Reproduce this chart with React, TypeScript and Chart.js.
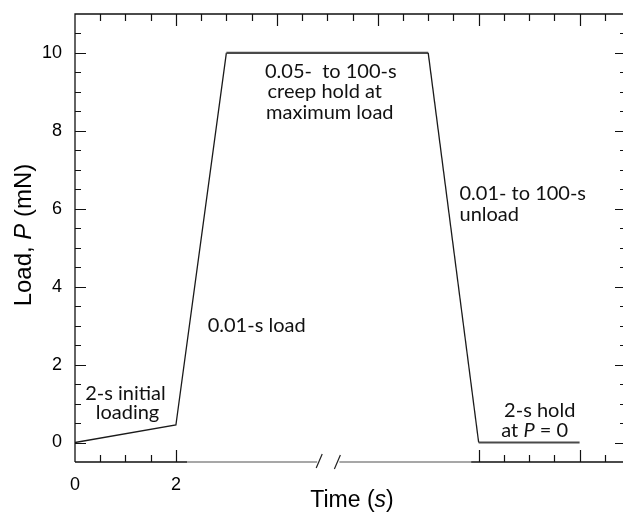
import React, { useEffect, useRef } from 'react';
import { Chart, registerables } from 'chart.js';

Chart.register(...registerables);

// ---- data ----
const timeValues = [0, 2, 3, 7, 8, 10];
const loadValues = [0, 0.45, 10, 10, 0, 0];
const yTickLabels = [0, 2, 4, 6, 8, 10];
const xTickLabels = [0, 2];
const bottomTickGroups = [[0.5, 1, 1.5, 2], [8, 8.5, 9, 9.5, 10, 10.5]];

const annotationTexts = [
  '2-s initial', 'loading',
  '0.01-s load',
  '0.05-  to 100-s', 'creep hold at', 'maximum load',
  '0.01- to 100-s', 'unload',
  '2-s hold',
];
const annotationX = [1.0, 1.04, 3.6, 5.07, 4.95, 5.05, 7.62, 7.62, 9.21];
const annotationY = [1.26, 0.76, 2.99, 9.51, 9.0, 8.46, 6.4, 5.86, 0.83];
const annotationAlign: CanvasTextAlign[] = ['center', 'center', 'center', 'center', 'center', 'center', 'left', 'left', 'center'];

const AXIS_FONT = '"Liberation Sans", Arial, sans-serif';
const NOTE_FONT = 'Lato, "Open Sans", sans-serif';
const NOTE_SIZE = 20;

function drawMixed(ctx: CanvasRenderingContext2D, parts: { t: string; it: boolean }[], size: number, family: string, cx: number, cy: number) {
  let total = 0;
  const widths = parts.map((p) => {
    ctx.font = `${p.it ? 'italic ' : ''}${size}px ${family}`;
    const w = ctx.measureText(p.t).width;
    total += w;
    return w;
  });
  let x = cx - total / 2;
  ctx.textAlign = 'left';
  ctx.textBaseline = 'middle';
  parts.forEach((p, i) => {
    ctx.font = `${p.it ? 'italic ' : ''}${size}px ${family}`;
    ctx.fillText(p.t, x, cy);
    x += widths[i];
  });
}

const framePlugin = {
  id: 'frame',
  afterDraw(chart: any) {
    const { ctx, chartArea, scales } = chart;
    const { left, right, top, bottom } = chartArea;
    const xs = scales.x;
    const ys = scales.y;
    ctx.save();
    ctx.lineCap = 'butt';

    // frame lines
    ctx.strokeStyle = '#111';
    ctx.lineWidth = 1.3;
    ctx.beginPath();
    ctx.moveTo(left, bottom);
    ctx.lineTo(left, top);
    ctx.lineTo(right, top);
    ctx.lineTo(right, bottom);
    ctx.stroke();

    // bottom axis: black parts
    const b1 = xs.getPixelForValue(2.22);
    const brA = xs.getPixelForValue(4.82);
    const brB = xs.getPixelForValue(5.2);
    const b2 = xs.getPixelForValue(7.85);
    ctx.beginPath();
    ctx.moveTo(left, bottom);
    ctx.lineTo(b1, bottom);
    ctx.moveTo(b2, bottom);
    ctx.lineTo(right, bottom);
    ctx.stroke();
    // gray broken part
    ctx.strokeStyle = '#8a8a8a';
    ctx.lineWidth = 1.3;
    ctx.beginPath();
    ctx.moveTo(b1, bottom);
    ctx.lineTo(brA - 1, bottom);
    ctx.moveTo(brB + 2, bottom);
    ctx.lineTo(b2, bottom);
    ctx.stroke();
    // break marks
    ctx.strokeStyle = '#222';
    ctx.lineWidth = 1.2;
    ctx.beginPath();
    ctx.moveTo(brA - 2, bottom + 6);
    ctx.lineTo(brA + 4, bottom - 8);
    ctx.moveTo(brB - 3, bottom + 7);
    ctx.lineTo(brB + 3, bottom - 7);
    ctx.stroke();

    // ticks
    ctx.strokeStyle = '#111';
    ctx.lineWidth = 1.2;
    ctx.beginPath();
    for (let v = 0; v <= 10.51; v += 0.5) {
      const py = Math.round(ys.getPixelForValue(v)) + 0.5;
      const major = Math.abs(v % 2) < 1e-6;
      const len = major ? 11 : 6;
      ctx.moveTo(left, py);
      ctx.lineTo(left + len, py);
      ctx.moveTo(right, py);
      ctx.lineTo(right - len, py);
    }
    for (let v = 0.5; v <= 10.51; v += 0.5) {
      const px = Math.round(xs.getPixelForValue(v)) + 0.5;
      const major = Math.abs(v % 2) < 1e-6;
      const len = major ? 12 : 7;
      ctx.moveTo(px, top);
      ctx.lineTo(px, top + len);
    }
    bottomTickGroups.forEach((g) =>
      g.forEach((v) => {
        const px = Math.round(xs.getPixelForValue(v)) + 0.5;
        const major = Math.abs(v % 2) < 1e-6;
        const len = major ? 12 : 7;
        ctx.moveTo(px, bottom);
        ctx.lineTo(px, bottom - len);
      })
    );
    ctx.stroke();

    // axis titles
    ctx.fillStyle = '#000';
    drawMixed(ctx, [{ t: 'Time (', it: false }, { t: 's', it: true }, { t: ')', it: false }], 23, AXIS_FONT, 352, 501);
    ctx.save();
    ctx.translate(24, 235);
    ctx.rotate(-Math.PI / 2);
    drawMixed(ctx, [{ t: 'Load, ', it: false }, { t: 'P', it: true }, { t: ' (mN)', it: false }], 24, AXIS_FONT, 0, 0);
    ctx.restore();

    // annotations
    ctx.fillStyle = '#111';
    ctx.textBaseline = 'middle';
    ctx.font = `${NOTE_SIZE}px ${NOTE_FONT}`;
    annotationTexts.forEach((t, i) => {
      ctx.textAlign = annotationAlign[i];
      ctx.fillText(t, xs.getPixelForValue(annotationX[i]), ys.getPixelForValue(annotationY[i]));
    });
    drawMixed(
      ctx,
      [{ t: 'at ', it: false }, { t: 'P', it: true }, { t: ' = 0', it: false }],
      NOTE_SIZE,
      NOTE_FONT,
      xs.getPixelForValue(9.11),
      ys.getPixelForValue(0.32)
    );
    ctx.restore();
  },
};

export default function App() {
  const canvasRef = useRef<HTMLCanvasElement | null>(null);

  useEffect(() => {
    if (!canvasRef.current) return;
    const points = timeValues.map((t, i) => ({ x: t, y: loadValues[i] }));
    const chart = new Chart(canvasRef.current, {
      type: 'scatter',
      data: {
        datasets: [
          {
            data: points,
            showLine: true,
            pointRadius: 0,
            borderColor: '#222',
            borderWidth: 1.3,
            segment: {
              borderWidth: (c: any) => (c.p0.parsed.y === c.p1.parsed.y ? 2.2 : 1.3),
              borderColor: (c: any) => (c.p0.parsed.y === c.p1.parsed.y ? '#4a4a4a' : '#1a1a1a'),
            },
          },
        ],
      },
      options: {
        animation: false,
        responsive: true,
        maintainAspectRatio: false,
        devicePixelRatio: 1,
        layout: { padding: { top: 14, right: 14, left: 0, bottom: 0 } },
        plugins: { legend: { display: false }, tooltip: { enabled: false } },
        scales: {
          x: {
            type: 'linear',
            min: 0,
            max: 10.92,
            grid: { display: false },
            border: { display: false },
            afterBuildTicks: (s: any) => {
              s.ticks = xTickLabels.map((v) => ({ value: v }));
            },
            afterFit: (s: any) => {
              s.height = 51;
              s.paddingLeft = 0;
              s.paddingRight = 0;
            },
            ticks: {
              color: '#000',
              padding: 4,
              maxRotation: 0,
              font: { family: AXIS_FONT, size: 18 },
              callback: (v: any) => String(v),
            },
          },
          y: {
            type: 'linear',
            min: -0.5,
            max: 11,
            grid: { display: false },
            border: { display: false },
            afterBuildTicks: (s: any) => {
              s.ticks = yTickLabels.map((v) => ({ value: v }));
            },
            afterFit: (s: any) => {
              s.width = 75;
              s.paddingTop = 0;
              s.paddingBottom = 0;
            },
            ticks: {
              color: '#000',
              padding: 5,
              font: { family: AXIS_FONT, size: 18 },
              callback: (v: any) => String(v),
            },
          },
        },
      },
      plugins: [framePlugin],
    });
    return () => chart.destroy();
  }, []);

  return (
    <div style={{ position: 'fixed', left: 0, top: 0, width: 623, height: 513, overflow: 'hidden', background: '#fff' }}>
      <div style={{ position: 'absolute', left: 0, top: 0, width: 640, height: 513 }}>
        <canvas ref={canvasRef} />
      </div>
    </div>
  );
}
